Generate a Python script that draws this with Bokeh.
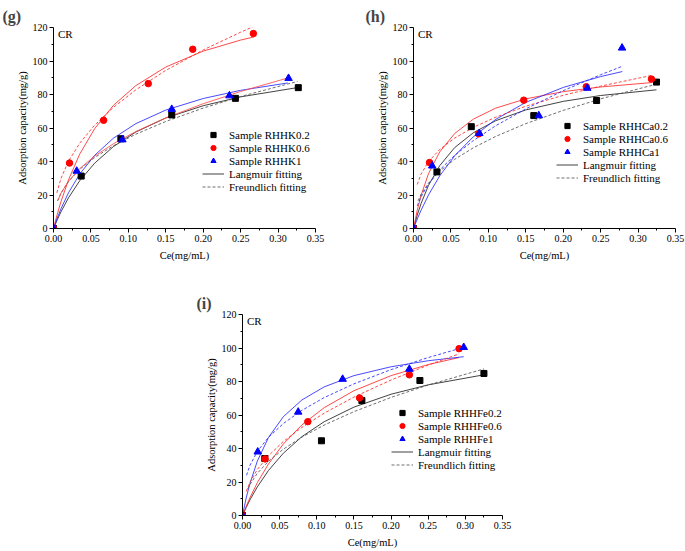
from bokeh.plotting import figure
from bokeh.models import (Legend, LegendItem, Label, FixedTicker,
                          NumeralTickFormatter, Range1d, Spacer)
from bokeh.layouts import column, row
from bokeh.embed import file_html
from bokeh.resources import INLINE

FONT = "Liberation Serif"

x_ticks = [0.0, 0.05, 0.10, 0.15, 0.20, 0.25, 0.30, 0.35]
x_minor = [0.025, 0.075, 0.125, 0.175, 0.225, 0.275, 0.325]
y_ticks = [0, 20, 40, 60, 80, 100, 120]
y_minor = [10, 30, 50, 70, 90, 110]

# ---------------- panel (g) ----------------
g_names = ["Sample RHHK0.2", "Sample RHHK0.6", "Sample RHHK1"]
g_ce_02 = [0.0, 0.037, 0.090, 0.158, 0.243, 0.327]
g_q_02 = [0.0, 31.3, 53.6, 67.8, 77.7, 84.1]
g_ce_06 = [0.0, 0.0214, 0.0669, 0.1266, 0.186, 0.267]
g_q_06 = [0.0, 39.1, 64.6, 86.5, 107.0, 116.4]
g_ce_1 = [0.0, 0.031, 0.092, 0.158, 0.235, 0.314]
g_q_1 = [0.0, 34.3, 53.0, 71.2, 79.3, 89.7]

g_lang_02_x = [0, 0.005, 0.01, 0.02, 0.035, 0.055, 0.08, 0.11, 0.15, 0.2, 0.25, 0.327]
g_lang_02_y = [0, 5.2, 10.0, 18.3, 28.5, 39.0, 48.9, 57.6, 66.0, 73.3, 78.6, 84.2]
g_lang_06_x = [0, 0.005, 0.01, 0.02, 0.035, 0.055, 0.08, 0.11, 0.15, 0.2, 0.25, 0.268]
g_lang_06_y = [0, 8.5, 16.1, 29.0, 44.4, 59.6, 73.5, 85.3, 96.4, 105.9, 112.5, 114.4]
g_lang_1_x = [0, 0.005, 0.01, 0.02, 0.035, 0.055, 0.08, 0.11, 0.15, 0.2, 0.25, 0.313]
g_lang_1_y = [0, 6.2, 11.8, 21.3, 32.5, 43.7, 53.9, 62.6, 70.7, 77.6, 82.5, 86.9]
g_freu_02_x = [0.0054, 0.01, 0.02, 0.035, 0.055, 0.08, 0.11, 0.15, 0.2, 0.25, 0.326]
g_freu_02_y = [16.4, 21.1, 28.0, 35.3, 42.4, 49.4, 56.3, 63.9, 71.9, 78.8, 87.8]
g_freu_06_x = [0.0045, 0.01, 0.02, 0.035, 0.055, 0.08, 0.11, 0.15, 0.2, 0.25, 0.268]
g_freu_06_y = [21.3, 29.9, 40.2, 50.9, 61.7, 72.3, 82.8, 94.4, 106.6, 117.2, 120.7]
g_freu_1_x = [0.006, 0.01, 0.02, 0.035, 0.055, 0.08, 0.11, 0.15, 0.2, 0.25, 0.314]
g_freu_1_y = [17.0, 21.1, 28.2, 35.8, 43.2, 50.6, 57.9, 66.0, 74.5, 81.8, 90.0]

# ---------------- panel (h) ----------------
h_names = ["Sample RHHCa0.2", "Sample RHHCa0.6", "Sample RHHCa1"]
h_ce_02 = [0.0, 0.0313, 0.0772, 0.1607, 0.2446, 0.3246]
h_q_02 = [0.0, 33.8, 60.8, 67.4, 76.4, 87.4]
h_ce_06 = [0.0, 0.0214, 0.087, 0.1473, 0.2308, 0.3179]
h_q_06 = [0.0, 39.4, 56.5, 76.6, 84.6, 89.2]
h_ce_1 = [0.0, 0.025, 0.0879, 0.1674, 0.2321, 0.2786]
h_q_1 = [0.0, 37.4, 56.8, 67.4, 83.8, 107.8]

h_lang_02_x = [0, 0.005, 0.01, 0.02, 0.035, 0.055, 0.08, 0.11, 0.15, 0.2, 0.25, 0.3246]
h_lang_02_y = [0, 8.0, 14.8, 25.7, 37.5, 48.3, 57.2, 64.4, 70.8, 75.9, 79.4, 82.8]
h_lang_06_x = [0, 0.005, 0.01, 0.02, 0.035, 0.055, 0.08, 0.11, 0.15, 0.2, 0.25, 0.318]
h_lang_06_y = [0, 10.9, 19.6, 32.7, 45.7, 56.7, 65.3, 71.9, 77.4, 81.7, 84.5, 87.1]
h_lang_1_x = [0, 0.005, 0.01, 0.02, 0.035, 0.055, 0.08, 0.11, 0.15, 0.2, 0.25, 0.279]
h_lang_1_y = [0, 5.6, 10.8, 20.0, 31.4, 43.4, 54.8, 65.2, 75.3, 84.2, 90.7, 93.7]
h_freu_02_x = [0.006, 0.01, 0.02, 0.035, 0.055, 0.08, 0.11, 0.15, 0.2, 0.25, 0.3246]
h_freu_02_y = [16.5, 20.3, 27.1, 34.2, 41.3, 48.2, 55.0, 62.6, 70.5, 77.4, 86.2]
h_freu_06_x = [0.005, 0.01, 0.02, 0.035, 0.055, 0.08, 0.11, 0.15, 0.2, 0.25, 0.318]
h_freu_06_y = [26.3, 32.4, 39.9, 47.2, 54.0, 60.4, 66.5, 73.0, 79.5, 85.0, 91.4]
h_freu_1_x = [0.005, 0.01, 0.02, 0.035, 0.055, 0.08, 0.11, 0.15, 0.2, 0.25, 0.2786]
h_freu_1_y = [13.5, 18.9, 26.6, 35.0, 43.7, 52.5, 61.4, 71.4, 82.3, 91.8, 96.8]

# ---------------- panel (i) ----------------
i_names = ["Sample RHHFe0.2", "Sample RHHFe0.6", "Sample RHHFe1"]
i_ce_02 = [0.0, 0.030, 0.1063, 0.1607, 0.2388, 0.325]
i_q_02 = [0.0, 34.0, 44.6, 68.6, 80.6, 84.8]
i_ce_06 = [0.0, 0.0304, 0.0879, 0.1576, 0.2246, 0.2915]
i_q_06 = [0.0, 33.8, 56.0, 70.2, 84.0, 99.6]
i_ce_1 = [0.0, 0.0205, 0.075, 0.1348, 0.2246, 0.2978]
i_q_1 = [0.0, 38.0, 61.8, 81.4, 87.4, 100.4]

i_lang_02_x = [0, 0.005, 0.01, 0.02, 0.035, 0.055, 0.08, 0.11, 0.15, 0.2, 0.25, 0.325]
i_lang_02_y = [0, 4.8, 9.3, 17.1, 26.9, 37.2, 47.1, 56.0, 64.7, 72.4, 78.0, 84.0]
i_lang_06_x = [0, 0.005, 0.01, 0.02, 0.035, 0.055, 0.08, 0.11, 0.15, 0.2, 0.25, 0.2915]
i_lang_06_y = [0, 5.5, 10.6, 19.6, 30.8, 42.7, 54.1, 64.4, 74.5, 83.5, 90.1, 94.3]
i_lang_1_x = [0, 0.005, 0.01, 0.02, 0.035, 0.055, 0.08, 0.11, 0.15, 0.2, 0.25, 0.2978]
i_lang_1_y = [0, 10.5, 19.1, 32.5, 46.6, 59.0, 69.0, 76.8, 83.5, 88.8, 92.4, 94.8]
i_freu_02_x = [0.007, 0.01, 0.02, 0.035, 0.055, 0.08, 0.11, 0.15, 0.2, 0.25, 0.325]
i_freu_02_y = [15.8, 18.5, 25.2, 32.4, 39.6, 46.8, 54.0, 62.0, 70.5, 77.9, 87.5]
i_freu_06_x = [0.005, 0.01, 0.02, 0.035, 0.055, 0.08, 0.11, 0.15, 0.2, 0.25, 0.2915]
i_freu_06_y = [14.3, 19.8, 27.5, 35.7, 44.2, 52.6, 61.1, 70.7, 80.9, 89.8, 96.5]
i_freu_1_x = [0.0054, 0.01, 0.02, 0.035, 0.055, 0.08, 0.11, 0.15, 0.2, 0.25, 0.2978]
i_freu_1_y = [24.0, 29.9, 38.3, 46.7, 54.9, 62.8, 70.4, 78.6, 87.1, 94.3, 100.4]

BLACK_L, BLACK_F = "#222222", "#555555"
RED, BLUE = "#ff2a2a", "#2a2aff"


def make_panel(tag, names, pts, lang, freu, freu_styles, legend_loc,
               width, height, right_border, bottom_border, title_offset):
    p = figure(width=width, height=height, output_backend="svg",
               toolbar_location=None,
               x_range=Range1d(0, 0.35), y_range=Range1d(0, 120),
               min_border_left=53, min_border_right=right_border,
               min_border_top=27, min_border_bottom=bottom_border,
               outline_line_color=None, background_fill_color="white",
               border_fill_color="white")
    p.title.text = tag
    p.title.align = "left"
    p.title.offset = title_offset
    p.title.standoff = 6
    p.title.text_font = FONT
    p.title.text_font_size = "16px"
    p.title.text_font_style = "bold"
    p.grid.visible = False

    p.xaxis.ticker = FixedTicker(ticks=x_ticks, minor_ticks=x_minor)
    p.xaxis.formatter = NumeralTickFormatter(format="0.00")
    p.yaxis.ticker = FixedTicker(ticks=y_ticks, minor_ticks=y_minor)
    p.xaxis.axis_label = "Ce(mg/mL)"
    p.yaxis.axis_label = "Adsorption capacity(mg/g)"
    for ax in (p.xaxis[0], p.yaxis[0]):
        ax.axis_line_color = "black"
        ax.major_tick_line_color = "black"
        ax.minor_tick_line_color = "black"
        ax.major_tick_out = 4
        ax.major_tick_in = 0
        ax.minor_tick_out = 2
        ax.minor_tick_in = 0
        ax.major_label_text_font = FONT
        ax.major_label_text_font_size = "10px"
        ax.major_label_text_color = "black"
        ax.major_label_standoff = 2
        ax.axis_label_text_font = FONT
        ax.axis_label_text_font_size = "10.5px"
        ax.axis_label_text_font_style = "normal"
        ax.axis_label_text_color = "black"
    p.xaxis[0].axis_label_standoff = 5
    p.yaxis[0].axis_label_standoff = 2

    colors_l = [BLACK_L, RED, BLUE]
    lang_r = []
    for (lx, ly), c in zip(lang, colors_l):
        lang_r.append(p.line(lx, ly, line_color=c, line_width=1, line_alpha=0.85))
    freu_r = []
    for (fx, fy), (c, dash) in zip(freu, freu_styles):
        freu_r.append(p.line(fx, fy, line_color=c, line_width=1, line_alpha=0.85,
                             line_dash=dash))

    markers = [("square", "black", 6), ("circle", "red", 6.5), ("triangle", "blue", 7.5)]
    mk_r = []
    for (cx, cy), (m, c, s) in zip(pts, markers):
        mk_r.append(p.scatter(cx, cy, marker=m, size=s, fill_color=c, line_color=c))

    p.add_layout(Label(x=0.006, y=116, text="CR", text_font=FONT,
                       text_font_size="11px", text_baseline="middle",
                       text_color="black"))

    items = [LegendItem(label=n, renderers=[r]) for n, r in zip(names, mk_r)]
    items.append(LegendItem(label="Langmuir fitting", renderers=[lang_r[0]]))
    items.append(LegendItem(label="Freundlich fitting", renderers=[freu_r[0]]))
    legend = Legend(items=items, location=legend_loc,
                    background_fill_alpha=0, border_line_color=None,
                    padding=0, margin=0, spacing=0,
                    label_height=13, glyph_height=13, glyph_width=22,
                    label_standoff=5, label_text_font=FONT,
                    label_text_font_size="11px", label_text_color="black")
    p.add_layout(legend)
    return p


pg = make_panel("(g)", g_names,
                [(g_ce_02, g_q_02), (g_ce_06, g_q_06), (g_ce_1, g_q_1)],
                [(g_lang_02_x, g_lang_02_y), (g_lang_06_x, g_lang_06_y), (g_lang_1_x, g_lang_1_y)],
                [(g_freu_02_x, g_freu_02_y), (g_freu_06_x, g_freu_06_y), (g_freu_1_x, g_freu_1_y)],
                [(BLACK_F, "3 2"), (RED, "3 2"), ("#ff4a4a", "solid")],
                (149, 35), 360, 287, 45, 59, -51)
ph = make_panel("(h)", h_names,
                [(h_ce_02, h_q_02), (h_ce_06, h_q_06), (h_ce_1, h_q_1)],
                [(h_lang_02_x, h_lang_02_y), (h_lang_06_x, h_lang_06_y), (h_lang_1_x, h_lang_1_y)],
                [(h_freu_02_x, h_freu_02_y), (h_freu_06_x, h_freu_06_y), (h_freu_1_x, h_freu_1_y)],
                [(BLACK_F, "3 2"), (RED, "3 2"), (BLUE, "3 2")],
                (143, 44), 325, 287, 10, 59, -48)
pi = make_panel("(i)", i_names,
                [(i_ce_02, i_q_02), (i_ce_06, i_q_06), (i_ce_1, i_q_1)],
                [(i_lang_02_x, i_lang_02_y), (i_lang_06_x, i_lang_06_y), (i_lang_1_x, i_lang_1_y)],
                [(i_freu_02_x, i_freu_02_y), (i_freu_06_x, i_freu_06_y), (i_freu_1_x, i_freu_1_y)],
                [(BLACK_F, "3 2"), (RED, "3 2"), (BLUE, "3 2")],
                (149, 44), 333, 263, 20, 35, -46)

layout = column(row(pg, ph), row(Spacer(width=189, height=263), pi))

open("out.html", "w").write(file_html(layout, INLINE))
